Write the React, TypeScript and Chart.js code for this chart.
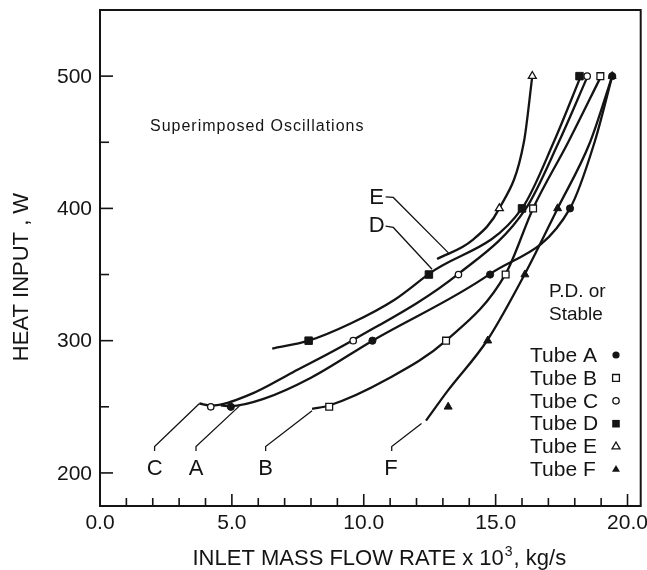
import React, { useEffect, useRef } from 'react';
import { Chart, registerables } from 'chart.js';

Chart.register(...registerables);

// ---------- axes ----------
const xMin = 0;
const xMax = 20.5;
const yMin = 175;
const yMax = 550;
const xTicks = [0, 1, 2, 3, 4, 5, 6, 7, 8, 9, 10, 11, 12, 13, 14, 15, 16, 17, 18, 19, 20];
const xMajorTicks = [0, 5, 10, 15, 20];
const xTickLabels = ['0.0', '5.0', '10.0', '15.0', '20.0'];
const yTicks = [200, 250, 300, 350, 400, 450, 500];
const yMajorTicks = [200, 300, 400, 500];
const yTickLabels = ['200', '300', '400', '500'];
const xTitleMain = 'INLET MASS FLOW RATE x 10';
const xTitleSup = '3';
const xTitleTail = ', kg/s';
const yTitle = 'HEAT INPUT , W';

// ---------- fitted curves (x = flow rate x10^3 kg/s, y = heat input W) ----------
const curveA = [[4.58, 251], [4.96, 250.5], [6.2, 256], [8.0, 272], [10.33, 300], [14.79, 350.5], [17.82, 400], [18.75, 450], [19.42, 500]];
const curveB = [[8.04, 248.5], [8.69, 251], [10.9, 271], [13.12, 300], [15.38, 350.5], [16.42, 400], [17.75, 450], [19.0, 500]];
const curveC = [[3.77, 252.5], [4.2, 251], [5.65, 259], [7.3, 276], [9.6, 300.5], [13.59, 350.5], [16.15, 400], [17.39, 450], [18.49, 500]];
const curveD = [[6.53, 294], [7.91, 300], [9.5, 313], [11.17, 331], [12.47, 350.5], [16.0, 400], [17.2, 450], [18.23, 500]];
const curveE = [[12.78, 361.7], [14.12, 376], [15.14, 400], [16.07, 450], [16.39, 500]];
const curveF = [[12.36, 239.5], [13.18, 262], [14.69, 300.5], [16.11, 350.5], [17.35, 400], [18.58, 450], [19.42, 500]];

// ---------- measured points ----------
const pointsA = [[4.96, 250], [10.33, 300], [14.79, 350], [17.82, 400], [19.42, 500]];
const pointsB = [[8.69, 250], [13.12, 300], [15.38, 350], [16.42, 400], [18.97, 500]];
const pointsC = [[4.2, 250], [9.6, 300], [13.59, 350], [18.47, 500]];
const pointsD = [[7.91, 300], [12.47, 350], [16.0, 400], [18.18, 500]];
const pointsE = [[15.14, 400], [16.39, 500]];
const pointsF = [[13.2, 250], [14.7, 300], [16.11, 350], [17.35, 400], [19.42, 500]];

// ---------- label leader lines ----------
const leaderC = [[2.07, 216.5], [2.07, 220], [3.77, 252.5]];
const leaderA = [[3.64, 216.5], [3.64, 220], [5.28, 250.5]];
const leaderB = [[6.28, 216.5], [6.28, 220], [8.04, 247]];
const leaderF = [[11.06, 216.5], [11.06, 220], [12.19, 237.4]];
const leaderE = [[10.83, 408.7], [11.12, 408.3], [13.21, 366.4]];
const leaderD = [[10.83, 386.6], [11.12, 385.6], [12.59, 354]];

// ---------- text annotations ----------
const curveLabelText = ['C', 'A', 'B', 'F', 'E', 'D'];
const curveLabelX = [2.07, 3.64, 6.28, 11.03, 10.49, 10.49];
const curveLabelY = [203.4, 203.4, 203.4, 203.4, 408.8, 387.4];
const regionTextTop = 'Superimposed Oscillations';
const regionTextRight = ['P.D. or', 'Stable'];
const legendLabels = ['Tube A', 'Tube B', 'Tube C', 'Tube D', 'Tube E', 'Tube F'];
const legendStyles = ['circle', 'rect', 'circle', 'rect', 'triangle', 'triangle'];
const legendFilled = [true, false, false, true, false, true];

const FONT = '"Liberation Sans", Arial, sans-serif';
const INK = '#141414';

const toXY = (arr: number[][]) => arr.map(([x, y]) => ({ x, y }));

function drawMarker(ctx: CanvasRenderingContext2D, style: string, filled: boolean, cx: number, cy: number) {
  ctx.beginPath();
  if (style === 'circle') {
    ctx.arc(cx, cy, filled ? 3.6 : 3.2, 0, Math.PI * 2);
  } else if (style === 'rect') {
    const s = filled ? 3.8 : 3.4;
    ctx.rect(cx - s, cy - s, 2 * s, 2 * s);
  } else {
    const r = 4.6;
    ctx.moveTo(cx, cy - r);
    ctx.lineTo(cx + r * 0.866, cy + r * 0.5);
    ctx.lineTo(cx - r * 0.866, cy + r * 0.5);
    ctx.closePath();
  }
  if (filled) {
    ctx.fillStyle = INK;
    ctx.fill();
  } else {
    ctx.fillStyle = '#fff';
    ctx.fill();
    ctx.lineWidth = 1.3;
    ctx.strokeStyle = INK;
    ctx.stroke();
  }
}

const decorPlugin = {
  id: 'decor',
  afterDraw(chart: any) {
    const { ctx, chartArea: a, scales } = chart;
    const xs = scales.x;
    const ys = scales.y;
    ctx.save();
    ctx.strokeStyle = INK;
    ctx.fillStyle = INK;
    // frame
    ctx.lineWidth = 2;
    ctx.strokeRect(a.left, a.top, a.right - a.left, a.bottom - a.top);
    // ticks
    ctx.lineWidth = 1.6;
    xTicks.forEach((v) => {
      const px = xs.getPixelForValue(v);
      const len = xMajorTicks.includes(v) ? 12 : 8;
      ctx.beginPath();
      ctx.moveTo(px, a.bottom);
      ctx.lineTo(px, a.bottom - len);
      ctx.stroke();
    });
    yTicks.forEach((v) => {
      const py = ys.getPixelForValue(v);
      const len = yMajorTicks.includes(v) ? 13 : 9;
      ctx.beginPath();
      ctx.moveTo(a.left, py);
      ctx.lineTo(a.left + len, py);
      ctx.stroke();
    });
    // tick labels
    ctx.font = `21px ${FONT}`;
    ctx.textAlign = 'center';
    ctx.textBaseline = 'alphabetic';
    xMajorTicks.forEach((v, i) => {
      ctx.fillText(xTickLabels[i], xs.getPixelForValue(v), a.bottom + 22.5);
    });
    ctx.textAlign = 'right';
    ctx.textBaseline = 'middle';
    yMajorTicks.forEach((v, i) => {
      ctx.fillText(yTickLabels[i], a.left - 8, ys.getPixelForValue(v) + 1);
    });
    // x title
    ctx.textBaseline = 'alphabetic';
    ctx.textAlign = 'left';
    const mainFont = `22px ${FONT}`;
    const supFont = `14px ${FONT}`;
    ctx.font = mainFont;
    const w1 = ctx.measureText(xTitleMain).width;
    const w3 = ctx.measureText(xTitleTail).width;
    ctx.font = supFont;
    const w2 = ctx.measureText(xTitleSup).width + 2;
    const total = w1 + w2 + w3;
    const cx = (a.left + a.right) / 2 + 9;
    const sx = cx - total / 2;
    const by = 565;
    ctx.font = mainFont;
    ctx.fillText(xTitleMain, sx, by);
    ctx.font = supFont;
    ctx.fillText(xTitleSup, sx + w1 + 1, by - 9);
    ctx.font = mainFont;
    ctx.fillText(xTitleTail, sx + w1 + w2, by);
    // y title
    ctx.save();
    ctx.translate(28, 277);
    ctx.rotate(-Math.PI / 2);
    ctx.textAlign = 'center';
    ctx.font = `22px ${FONT}`;
    ctx.fillText(yTitle, 0, 0);
    ctx.restore();
    // curve labels
    ctx.font = `22px ${FONT}`;
    ctx.textAlign = 'center';
    ctx.textBaseline = 'middle';
    curveLabelText.forEach((t, i) => {
      ctx.fillText(t, xs.getPixelForValue(curveLabelX[i]), ys.getPixelForValue(curveLabelY[i]) + 1);
    });
    // region texts
    ctx.textAlign = 'left';
    ctx.textBaseline = 'alphabetic';
    ctx.font = `16px ${FONT}`;
    try { (ctx as any).letterSpacing = '1px'; } catch (e) { /* ignore */ }
    ctx.fillText(regionTextTop, 150, 131);
    try { (ctx as any).letterSpacing = '0px'; } catch (e) { /* ignore */ }
    ctx.font = `19px ${FONT}`;
    ctx.fillText(regionTextRight[0], 549, 297);
    ctx.fillText(regionTextRight[1], 549, 320);
    // legend
    ctx.font = `21px ${FONT}`;
    legendLabels.forEach((t, i) => {
      const cy = 355 + i * 22.9;
      ctx.fillStyle = INK;
      ctx.textBaseline = 'middle';
      ctx.fillText(t, 530, cy + 1);
      drawMarker(ctx, legendStyles[i], legendFilled[i], 616, cy);
    });
    ctx.restore();
  },
};

function markerSet(data: number[][], style: string, filled: boolean, radius: number) {
  return {
    data: toXY(data),
    showLine: false,
    pointStyle: style,
    pointRadius: radius,
    pointBorderWidth: filled ? 1 : 1.3,
    pointBackgroundColor: filled ? INK : '#ffffff',
    pointBorderColor: INK,
    order: 0,
  };
}

function curveSet(data: number[][]) {
  return {
    data: toXY(data),
    showLine: true,
    borderColor: INK,
    borderWidth: 2.3,
    pointRadius: 0,
    cubicInterpolationMode: 'monotone',
    order: 2,
  };
}

function leaderSet(data: number[][]) {
  return {
    data: toXY(data),
    showLine: true,
    borderColor: INK,
    borderWidth: 1.3,
    pointRadius: 0,
    tension: 0,
    order: 3,
  };
}

export default function App() {
  const ref = useRef<HTMLCanvasElement | null>(null);
  useEffect(() => {
    if (!ref.current) return;
    const chart = new Chart(ref.current, {
      type: 'scatter',
      data: {
        datasets: [
          markerSet(pointsF, 'triangle', true, 4.6),
          markerSet(pointsE, 'triangle', false, 4.6),
          markerSet(pointsC, 'circle', false, 3.2),
          markerSet(pointsD, 'rect', true, 5.3),
          markerSet(pointsB, 'rect', false, 4.8),
          markerSet(pointsA, 'circle', true, 3.6),
          curveSet(curveA),
          curveSet(curveB),
          curveSet(curveC),
          curveSet(curveD),
          curveSet(curveE),
          curveSet(curveF),
          leaderSet(leaderC),
          leaderSet(leaderA),
          leaderSet(leaderB),
          leaderSet(leaderF),
          leaderSet(leaderE),
          leaderSet(leaderD),
        ] as any,
      },
      options: {
        animation: false,
        responsive: false,
        events: [],
        layout: { padding: { left: 100, right: 3, top: 10, bottom: 64 } },
        plugins: { legend: { display: false }, tooltip: { enabled: false } },
        scales: {
          x: { type: 'linear', min: xMin, max: xMax, display: false },
          y: { type: 'linear', min: yMin, max: yMax, display: false },
        },
      },
      plugins: [decorPlugin],
    });
    return () => chart.destroy();
  }, []);
  return (
    <div style={{ position: 'absolute', left: 0, top: 0, width: 647, height: 570, background: '#fff' }}>
      <canvas ref={ref} width={647} height={570} style={{ display: 'block' }} />
    </div>
  );
}
